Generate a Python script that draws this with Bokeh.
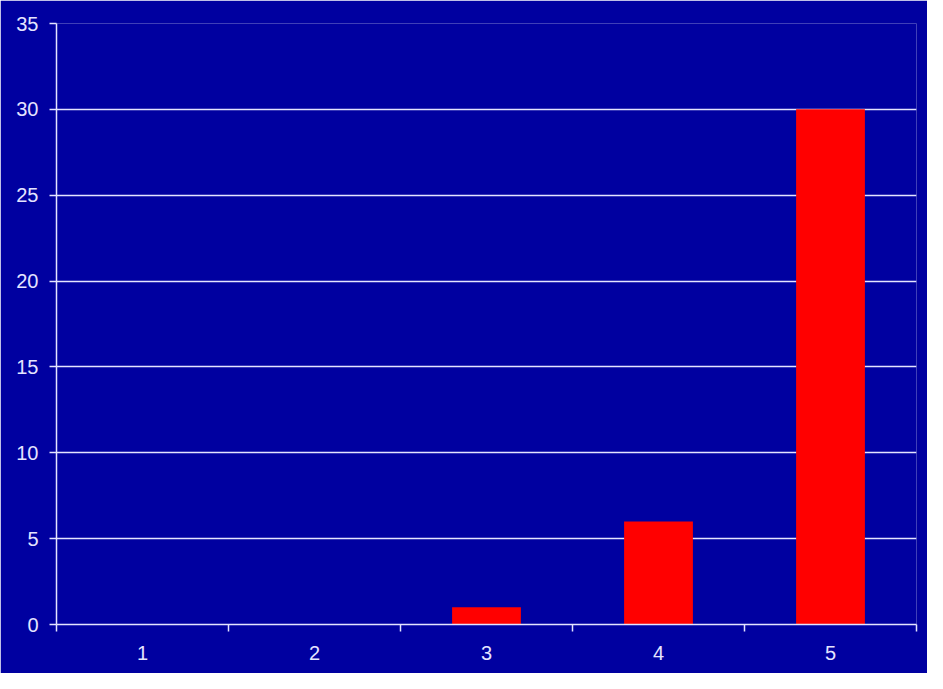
from bokeh.plotting import figure
from bokeh.models import FixedTicker, ColumnDataSource, Range1d
from bokeh.embed import file_html
from bokeh.resources import INLINE

categories = ["1", "2", "3", "4", "5"]
values = [0, 0, 1, 6, 30]
y_ticks = [0, 5, 10, 15, 20, 25, 30, 35]

BG = "#0000A0"
FG = "#E4E4FF"

xs = [i + 1 for i in range(len(categories))]
src = ColumnDataSource(dict(x=xs, top=values))

p = figure(width=927, height=673, output_backend="svg", toolbar_location=None,
           x_range=Range1d(0.5, len(categories) + 0.5), y_range=Range1d(0, 35),
           background_fill_color=BG, border_fill_color=BG, outline_line_color=None,
           min_border_left=56, min_border_right=11, min_border_top=23, min_border_bottom=49)

p.vbar(x="x", top="top", bottom=0, width=0.4, source=src, fill_color="#FF0000", line_color=None)

p.xgrid.grid_line_color = None
p.ygrid.grid_line_color = FG
p.ygrid.grid_line_width = 1.5
p.ygrid.ticker = FixedTicker(ticks=y_ticks)

p.xaxis.ticker = FixedTicker(ticks=xs, minor_ticks=[x - 0.5 for x in xs] + [xs[-1] + 0.5])
p.xaxis.major_label_overrides = {x: c for x, c in zip(xs, categories)}
p.xaxis.major_tick_out = 0
p.xaxis.major_tick_in = 0
p.xaxis.minor_tick_out = 7
p.xaxis.minor_tick_in = 0
p.xaxis.minor_tick_line_color = FG
p.xaxis.minor_tick_line_width = 1.5
p.xaxis.major_label_standoff = 14

p.yaxis.ticker = FixedTicker(ticks=y_ticks)
p.yaxis.major_tick_out = 7
p.yaxis.major_tick_in = 0
p.yaxis.minor_tick_out = 0
p.yaxis.minor_tick_in = 0
p.yaxis.major_label_standoff = 11

for ax in (p.xaxis, p.yaxis):
    ax.axis_line_color = FG
    ax.axis_line_width = 1.5
    ax.major_tick_line_color = FG
    ax.major_tick_line_width = 1.5
    ax.major_label_text_color = FG
    ax.major_label_text_font = "Liberation Sans"
    ax.major_label_text_font_size = "20px"

html = file_html(p, INLINE)
html = html.replace("<body>", '<body style="background:%s;">' % BG, 1)
open("out.html", "w").write(html)
